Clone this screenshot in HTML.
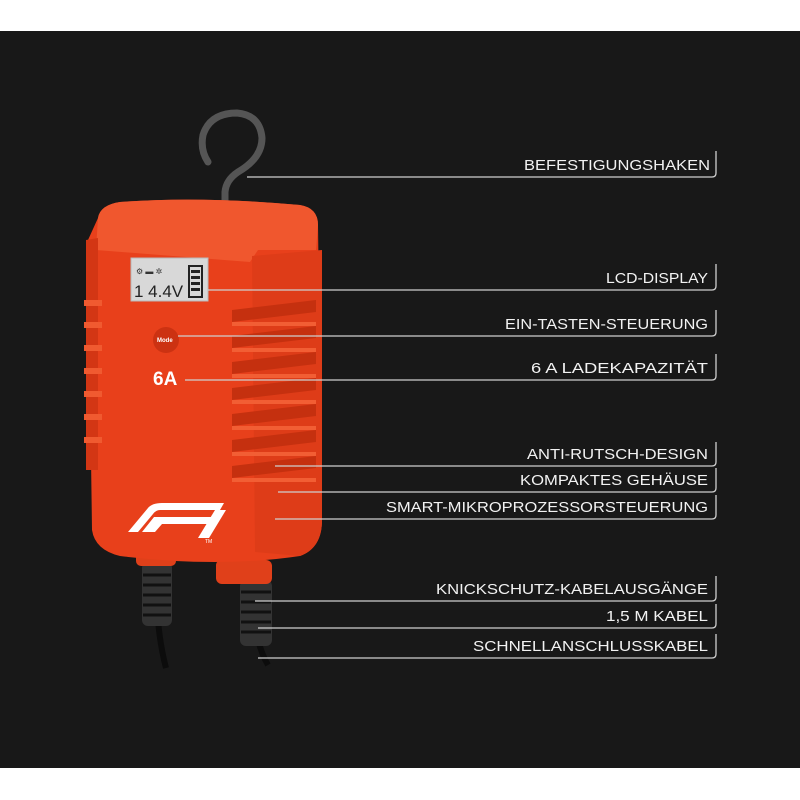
<!DOCTYPE html>
<html><head><meta charset="utf-8"><style>
html,body{margin:0;padding:0;background:#fff;width:800px;height:800px;overflow:hidden}
svg{display:block}
text{font-family:"Liberation Sans",sans-serif;font-size:15px;fill:#f2f2f2}
</style></head><body>
<svg width="800" height="800" viewBox="0 0 800 800" xmlns="http://www.w3.org/2000/svg">
<rect x="0" y="0" width="800" height="800" fill="#fff"/>
<rect x="0" y="31" width="800" height="737" fill="#181818"/>

<!-- cables -->
<path d="M158 620 Q160 645 166 668" stroke="#0c0c0c" stroke-width="6" fill="none"/>
<path d="M258 640 Q262 655 268 665" stroke="#0c0c0c" stroke-width="6" fill="none"/>
<g fill="#333">
<rect x="142" y="562" width="30" height="64" rx="6"/>
<rect x="240" y="580" width="32" height="66" rx="6"/>
</g>
<g stroke="#111" stroke-width="3">
<line x1="143" y1="575" x2="171" y2="575"/><line x1="143" y1="585" x2="171" y2="585"/><line x1="143" y1="595" x2="171" y2="595"/><line x1="143" y1="605" x2="171" y2="605"/><line x1="143" y1="615" x2="171" y2="615"/>
<line x1="241" y1="592" x2="271" y2="592"/><line x1="241" y1="602" x2="271" y2="602"/><line x1="241" y1="612" x2="271" y2="612"/><line x1="241" y1="622" x2="271" y2="622"/><line x1="241" y1="632" x2="271" y2="632"/>
</g>
<rect x="216" y="560" width="40" height="20" rx="5" fill="#d63a16"/>
<rect x="216" y="560" width="56" height="24" rx="6" fill="#e0401a"/>
<rect x="136" y="548" width="40" height="18" rx="5" fill="#e0401a"/>

<!-- hook -->
<path d="M225 248 L225 192 Q226 180 238 172 Q262 158 262 138 Q260 115 237 113 Q210 113 203 135 Q200 150 208 162" stroke="#555" stroke-width="7" fill="none" stroke-linecap="round"/>

<!-- body -->
<path d="M98 218 Q100 205 120 202 Q200 196 300 205 Q318 208 318 225 L322 520 Q322 548 300 556 Q220 568 120 556 Q95 550 92 530 L88 240 Z" fill="#e8401b"/>
<path d="M98 218 Q100 205 120 202 Q200 196 300 205 Q318 208 318 225 L316 250 L258 250 L250 262 L96 250 Z" fill="#f0572e"/>
<path d="M252 256 L322 250 L322 520 Q322 548 300 556 L255 552 Z" fill="#de3c18"/>
<path d="M86 240 L98 238 L98 470 L86 470 Z" fill="#d33614"/>
<g fill="#f05a30">
<rect x="84" y="300" width="18" height="6"/><rect x="84" y="322" width="18" height="6"/><rect x="84" y="345" width="18" height="6"/><rect x="84" y="368" width="18" height="6"/><rect x="84" y="391" width="18" height="6"/><rect x="84" y="414" width="18" height="6"/><rect x="84" y="437" width="18" height="6"/>
</g>
<g fill="#c5300f">
<path d="M232 310 L316 300 L316 312 L232 322 Z"/><path d="M232 336 L316 326 L316 338 L232 348 Z"/><path d="M232 362 L316 352 L316 364 L232 374 Z"/><path d="M232 388 L316 378 L316 390 L232 400 Z"/><path d="M232 414 L316 404 L316 416 L232 426 Z"/><path d="M232 440 L316 430 L316 442 L232 452 Z"/><path d="M232 466 L316 456 L316 468 L232 478 Z"/>
</g>
<g fill="#f25e34">
<rect x="232" y="322" width="84" height="4"/><rect x="232" y="348" width="84" height="4"/><rect x="232" y="374" width="84" height="4"/><rect x="232" y="400" width="84" height="4"/><rect x="232" y="426" width="84" height="4"/><rect x="232" y="452" width="84" height="4"/><rect x="232" y="478" width="84" height="4"/>
</g>

<!-- LCD -->
<rect x="131" y="258" width="77" height="43" fill="#d8d8d8" stroke="#b9b9b9"/>
<text x="134" y="297" style="font-size:17px;fill:#222">1 4.4V</text>
<text x="136" y="274" style="font-size:8px;fill:#333">⚙ ▬ ✲</text>
<rect x="189" y="266" width="13" height="31" fill="none" stroke="#222" stroke-width="2"/>
<g fill="#222"><rect x="191" y="270" width="9" height="3"/><rect x="191" y="276" width="9" height="3"/><rect x="191" y="282" width="9" height="3"/><rect x="191" y="288" width="9" height="3"/></g>

<!-- mode button -->
<circle cx="166" cy="340" r="13" fill="#cc3212"/>
<text x="157" y="342" style="font-size:6px;fill:#fff;font-weight:bold">Mode</text>
<text x="153" y="385" style="font-size:19px;fill:#fff;font-weight:bold">6A</text>

<!-- F1 logo -->
<g fill="#fff">
<path d="M128 532 L148 508 Q152 503 162 503 L224 503 L220 510 L160 510 Q156 510 153 514 L138 532 Z"/>
<path d="M142 532 L154 517 L214 517 L210 524 L162 524 L155 532 Z"/>
<path d="M198 538 L215 510 L226 510 L209 538 Z"/>
</g>
<text x="205" y="543" style="font-size:5px;fill:#fff">TM</text>

<!-- leaders -->
<g stroke="#cfcfcf" stroke-width="1.3" fill="none">
<path d="M247 177 L712 177 Q716 177 716 173 L716 151"/>
<path d="M208 290 L712 290 Q716 290 716 286 L716 264"/>
<path d="M178 336 L712 336 Q716 336 716 332 L716 310"/>
<path d="M185 380 L712 380 Q716 380 716 376 L716 354"/>
<path d="M275 466 L712 466 Q716 466 716 462 L716 442"/>
<path d="M278 492 L712 492 Q716 492 716 488 L716 468"/>
<path d="M275 519 L712 519 Q716 519 716 515 L716 495"/>
<path d="M255 601 L712 601 Q716 601 716 597 L716 576"/>
<path d="M258 628 L712 628 Q716 628 716 624 L716 604"/>
<path d="M258 658 L712 658 Q716 658 716 654 L716 634"/>
</g>
<g text-anchor="end">
<text x="710" y="170" textLength="186" lengthAdjust="spacingAndGlyphs">BEFESTIGUNGSHAKEN</text>
<text x="708" y="283" textLength="102" lengthAdjust="spacingAndGlyphs">LCD-DISPLAY</text>
<text x="708" y="329" textLength="203" lengthAdjust="spacingAndGlyphs">EIN-TASTEN-STEUERUNG</text>
<text x="708" y="373" textLength="177" lengthAdjust="spacingAndGlyphs">6 A LADEKAPAZITÄT</text>
<text x="708" y="459" textLength="181" lengthAdjust="spacingAndGlyphs">ANTI-RUTSCH-DESIGN</text>
<text x="708" y="485" textLength="188" lengthAdjust="spacingAndGlyphs">KOMPAKTES GEHÄUSE</text>
<text x="708" y="512" textLength="322" lengthAdjust="spacingAndGlyphs">SMART-MIKROPROZESSORSTEUERUNG</text>
<text x="708" y="594" textLength="272" lengthAdjust="spacingAndGlyphs">KNICKSCHUTZ-KABELAUSGÄNGE</text>
<text x="708" y="621" textLength="102" lengthAdjust="spacingAndGlyphs">1,5 M KABEL</text>
<text x="708" y="651" textLength="235" lengthAdjust="spacingAndGlyphs">SCHNELLANSCHLUSSKABEL</text>
</g>
</svg>
</body></html>
